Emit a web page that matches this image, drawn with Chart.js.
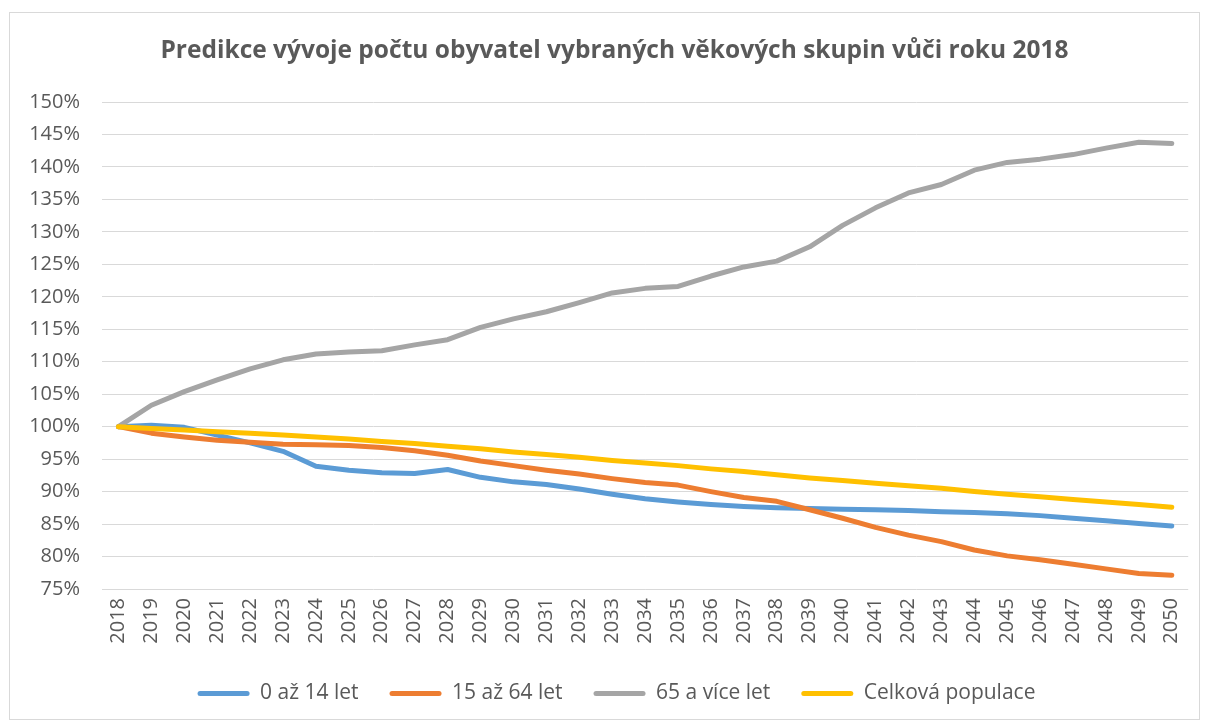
<!DOCTYPE html>
<html>
<head>
<meta charset="utf-8">
<script src="https://cdn.jsdelivr.net/npm/chart.js@4.4.1/dist/chart.umd.min.js"></script>
<style>
  html, body { margin: 0; padding: 0; background: #ffffff; }
  #wrap { position: relative; width: 1205px; height: 724px; }
</style>
</head>
<body>
<div id="wrap"><canvas id="c" width="1205" height="724"></canvas></div>
<script>
const titleText = 'Predikce vývoje počtu obyvatel vybraných věkových skupin vůči roku 2018';
const years = ['2018','2019','2020','2021','2022','2023','2024','2025','2026','2027','2028','2029','2030','2031','2032','2033','2034','2035','2036','2037','2038','2039','2040','2041','2042','2043','2044','2045','2046','2047','2048','2049','2050'];
const seriesNames = ['0 až 14 let', '15 až 64 let', '65 a více let', 'Celková populace'];
const kids = [100, 100.2, 99.9, 98.7, 97.5, 96.2, 93.9, 93.3, 92.9, 92.8, 93.4, 92.2, 91.5, 91.1, 90.4, 89.6, 88.9, 88.4, 88.0, 87.7, 87.5, 87.4, 87.3, 87.2, 87.1, 86.9, 86.8, 86.6, 86.3, 85.9, 85.5, 85.1, 84.7];
const working = [100, 99.0, 98.4, 97.9, 97.6, 97.3, 97.2, 97.1, 96.8, 96.3, 95.6, 94.7, 94.0, 93.3, 92.7, 92.0, 91.4, 91.0, 90.0, 89.1, 88.5, 87.2, 85.9, 84.5, 83.3, 82.3, 81.0, 80.1, 79.5, 78.8, 78.1, 77.4, 77.1];
const seniors = [100, 103.3, 105.4, 107.2, 108.9, 110.3, 111.2, 111.5, 111.7, 112.6, 113.4, 115.3, 116.6, 117.7, 119.1, 120.6, 121.3, 121.6, 123.2, 124.6, 125.5, 127.7, 131.0, 133.7, 136.0, 137.3, 139.5, 140.7, 141.2, 141.9, 142.9, 143.8, 143.6];
const total = [100, 99.7, 99.5, 99.2, 99.0, 98.7, 98.4, 98.1, 97.7, 97.4, 97.0, 96.6, 96.1, 95.7, 95.3, 94.8, 94.4, 94.0, 93.5, 93.1, 92.6, 92.1, 91.7, 91.3, 90.9, 90.5, 90.0, 89.6, 89.2, 88.8, 88.4, 88.0, 87.6];
const yTicks = [75, 80, 85, 90, 95, 100, 105, 110, 115, 120, 125, 130, 135, 140, 145, 150];
const colors = ['#5B9BD5', '#ED7D31', '#A5A5A5', '#FFC000'];

const textColor = '#595959';
const gridColor = '#D9D9D9';
const FONT = "'Open Sans', 'Liberation Sans', sans-serif";

const frame = {
  id: 'frame',
  beforeDraw(chart) {
    const ctx = chart.ctx;
    ctx.save();
    ctx.fillStyle = '#ffffff';
    ctx.fillRect(0, 0, chart.width, chart.height);
    ctx.strokeStyle = gridColor;
    ctx.lineWidth = 1;
    ctx.strokeRect(9.5, 12.5, 1190, 707);
    ctx.restore();
  }
};

// shift title and legend horizontally so they are centred like the reference
const centreShift = {
  id: 'centreShift',
  afterLayout(chart) {
    if (chart.titleBlock) { chart.titleBlock.left += 15; chart.titleBlock.right += 15; }
    if (chart.legend) { chart.legend.left += 17; chart.legend.right += 17; }
  }
};

function mk(i, data, order) {
  return {
    label: seriesNames[i],
    data: data,
    borderColor: colors[i],
    backgroundColor: colors[i],
    borderWidth: 5,
    borderCapStyle: 'round',
    borderJoinStyle: 'round',
    pointRadius: 0,
    pointHoverRadius: 0,
    tension: 0,
    fill: false,
    order: order
  };
}

new Chart(document.getElementById('c'), {
  type: 'line',
  data: {
    labels: years,
    datasets: [mk(0, kids, 3), mk(1, working, 2), mk(2, seniors, 1), mk(3, total, 0)]
  },
  options: {
    responsive: false,
    animation: false,
    events: [],
    layout: { padding: { left: 9, right: 15, top: 0, bottom: 10 } },
    plugins: {
      title: {
        display: true,
        text: titleText,
        color: textColor,
        font: { family: FONT, size: 24.5, weight: 'bold' },
        padding: { top: 36, bottom: 36.6 }
      },
      legend: {
        display: true,
        position: 'bottom',
        reverse: true,
        labels: {
          color: textColor,
          font: { family: FONT, size: 21 },
          boxWidth: 52,
          boxHeight: 5,
          useBorderRadius: true,
          borderRadius: 2.5,
          padding: 31,
          generateLabels(chart) {
            const items = Chart.defaults.plugins.legend.labels.generateLabels(chart);
            items.forEach(it => { it.lineWidth = 0; });
            return items;
          }
        }
      },
      tooltip: { enabled: false }
    },
    scales: {
      x: {
        offset: true,
        grid: { display: false, drawTicks: false },
        border: { display: false },
        afterFit(scale) { scale.height = 63; },
        ticks: {
          color: textColor,
          font: { family: FONT, size: 20 },
          minRotation: 90,
          maxRotation: 90,
          autoSkip: false,
          padding: 9
        }
      },
      y: {
        min: 75,
        max: 150,
        afterBuildTicks(scale) { scale.ticks = yTicks.map(v => ({ value: v })); },
        afterFit(scale) { scale.width = 93; },
        grid: { color: gridColor, lineWidth: 1, drawTicks: false },
        border: { display: false },
        ticks: {
          color: textColor,
          font: { family: FONT, size: 20 },
          padding: 22,
          callback: v => v + '%'
        }
      }
    }
  },
  plugins: [frame, centreShift]
});
</script>
</body>
</html>
